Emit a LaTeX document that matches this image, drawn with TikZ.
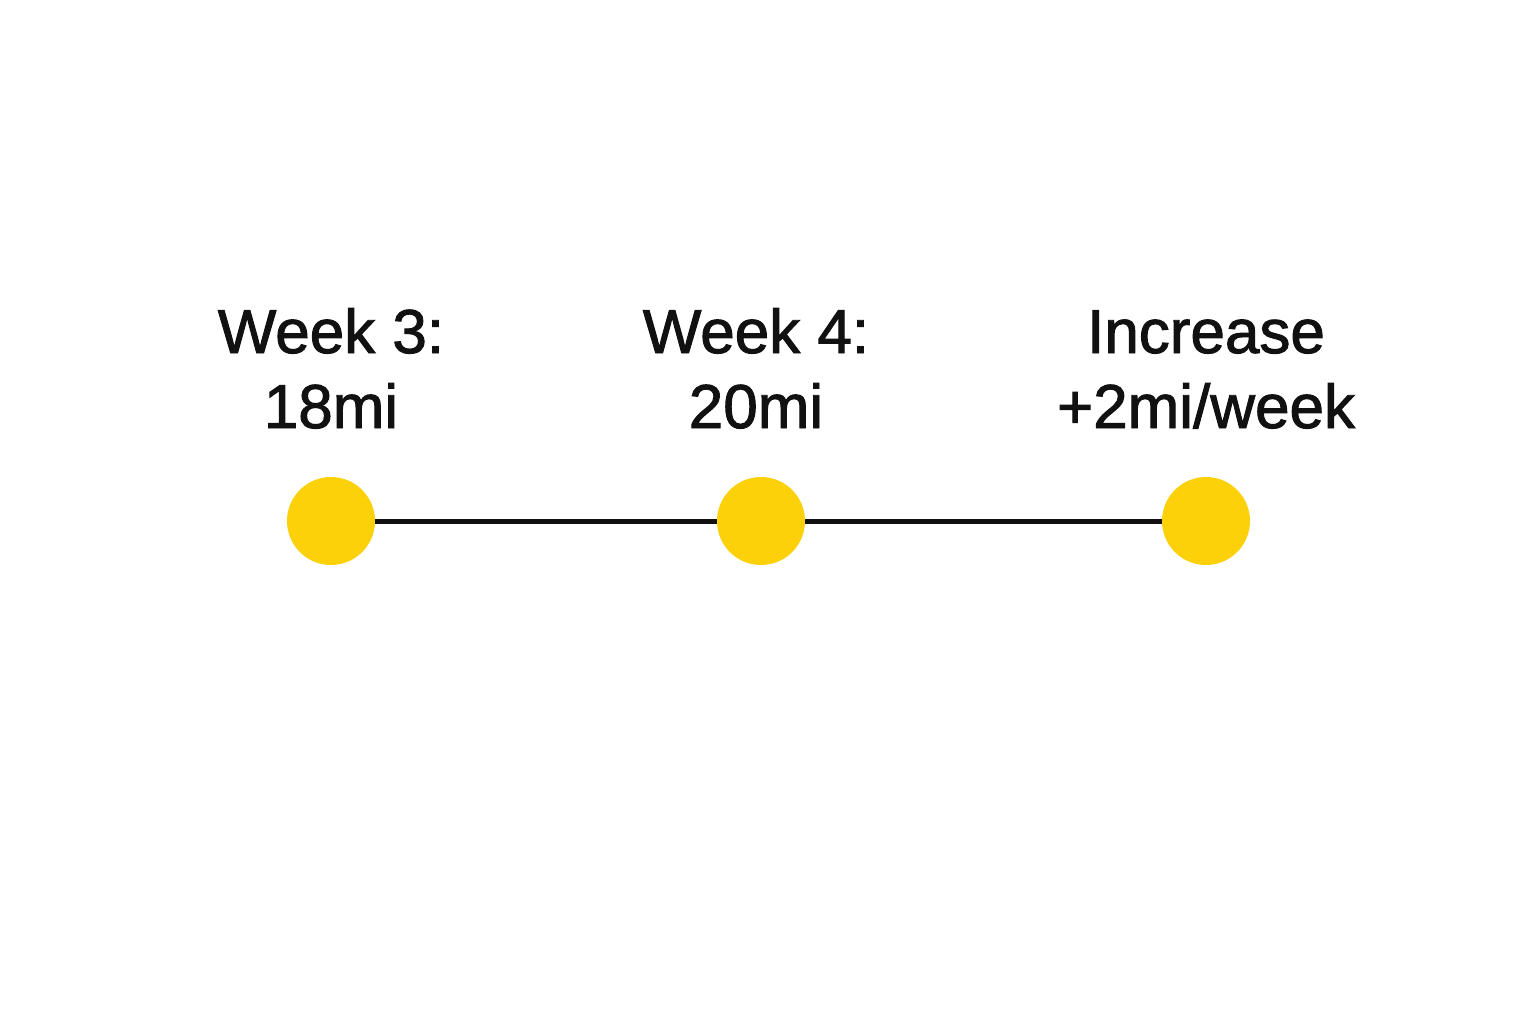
\documentclass[tikz,border=0pt]{standalone}
\usepackage{fontspec}
\setmainfont{Liberation Sans}
\newfontfamily\medfont[FakeBold=1.6]{Liberation Sans}
\definecolor{dotc}{HTML}{FCD10A}
\definecolor{ink}{HTML}{111111}
\begin{document}
\begin{tikzpicture}[x=1pt,y=-1pt,
  dot/.style={circle,fill=dotc,minimum size=88pt,inner sep=0pt},
  lab/.style={align=center,font=\medfont\fontsize{62}{75}\selectfont,text=ink,anchor=base}]
\useasboundingbox[fill=white] (0,0) rectangle (1536,1024);
\node[dot] (a) at (331,521) {};
\node[dot] (b) at (761,521) {};
\node[dot] (c) at (1206,521) {};
\draw[line width=5pt,ink] (a.east) -- (b.west);
\draw[line width=5pt,ink] (b.east) -- (c.west);
\node[lab] (ta) at (331,428) {Week 3:\\18mi};
\node[lab] (tb) at (756,428) {Week 4:\\20mi};
\node[lab] (tc) at (1206,428) {Increase\\+2mi/week};
\end{tikzpicture}
\end{document}
